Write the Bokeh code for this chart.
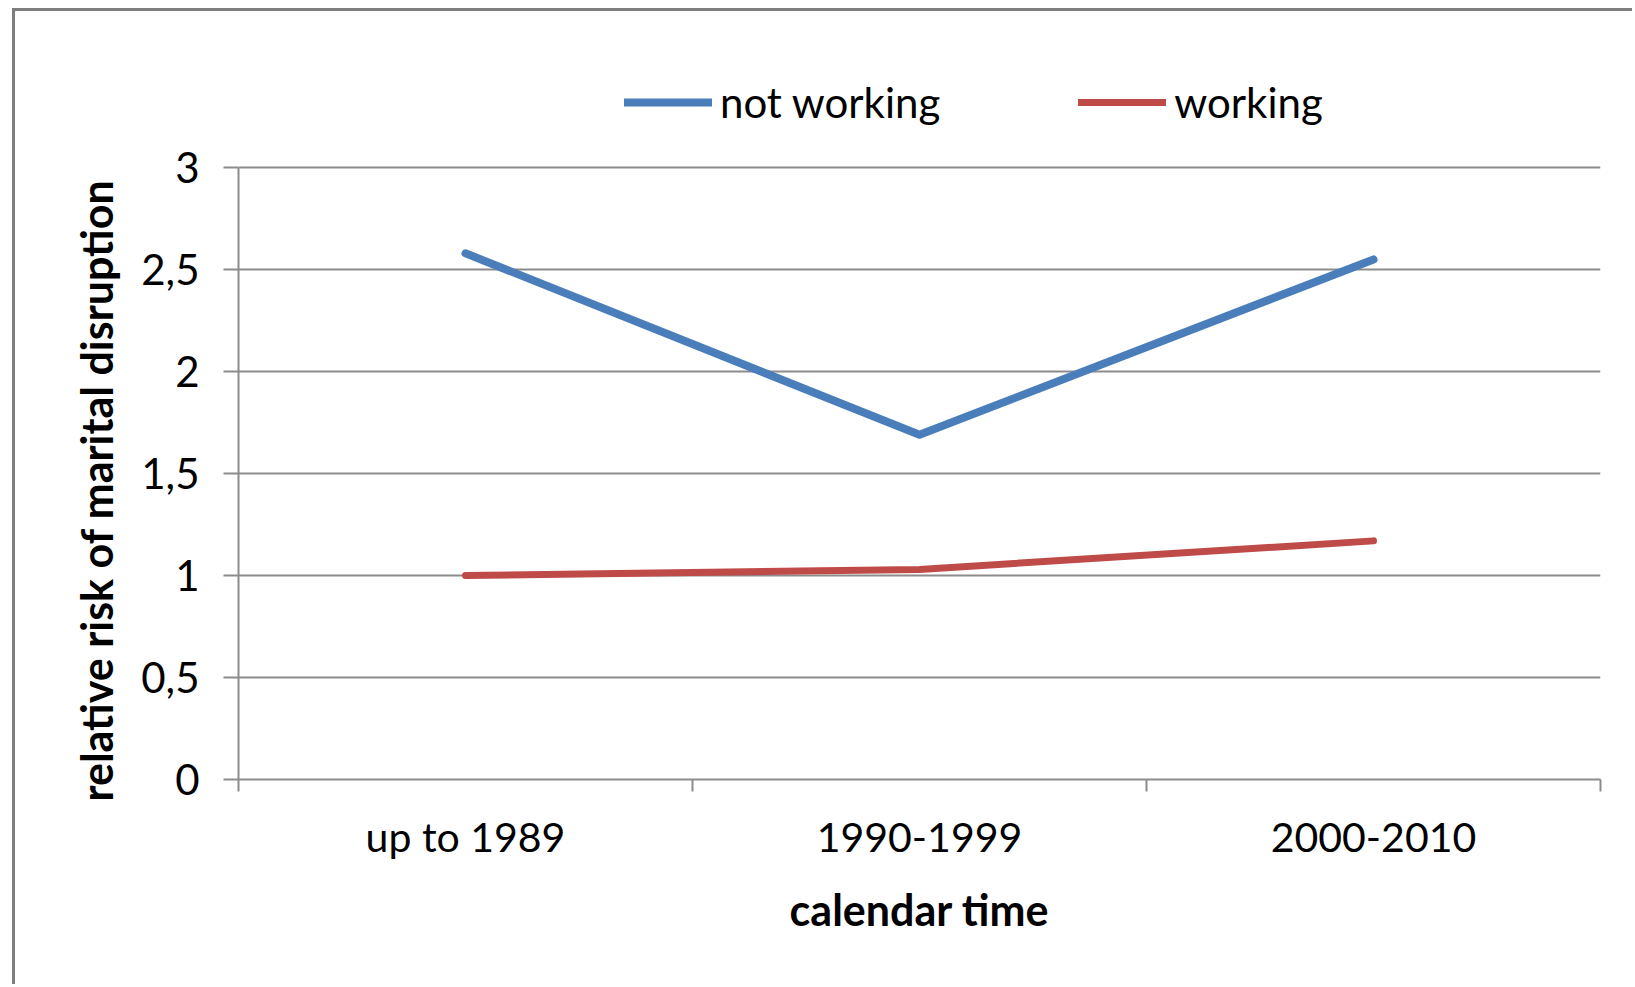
from bokeh.plotting import figure
from bokeh.models import Range1d, FixedTicker, Legend, LegendItem, Title
from bokeh.embed import file_html
from bokeh.resources import INLINE

# ---- data ----
categories = ["up to 1989", "1990-1999", "2000-2010"]
not_working = [2.58, 1.69, 2.55]
working = [1.00, 1.03, 1.17]
y_ticks = [0, 0.5, 1, 1.5, 2, 2.5, 3]
y_tick_labels = ["0", "0,5", "1", "1,5", "2", "2,5", "3"]
series_names = ["not working", "working"]
x_title = "calendar time"
y_title = "relative risk of marital disruption"

FONT = "Lato"
GRAY = "#8c8c8c"
BLUE = "#4a7ebb"
RED = "#be4b48"

xs = [i + 0.5 for i in range(len(categories))]
Y_MAX = 3
Y_VIEW_TOP = 3.54   # extra room above the axis for the legend

W, H = 1620, 976
p = figure(width=W, height=H, output_backend="svg", toolbar_location=None,
           x_range=Range1d(0, len(categories)), y_range=Range1d(0, Y_VIEW_TOP),
           min_border_left=223, min_border_right=35, min_border_top=46,
           min_border_bottom=208)
p.margin = (8, 0, 0, 12)
p.styles = {"border-left": "3px solid #7f7f7f", "border-top": "3px solid #7f7f7f"}
p.outline_line_color = None
p.background_fill_color = "white"
p.border_fill_color = "white"

# x axis
xa = p.xaxis[0]
xa.ticker = FixedTicker(ticks=xs, minor_ticks=list(range(len(categories) + 1)))
xa.major_label_overrides = {x: c for x, c in zip(xs, categories)}
xa.major_tick_line_color = None
xa.major_tick_out = 0
xa.major_tick_in = 0
xa.minor_tick_line_color = GRAY
xa.minor_tick_line_width = 2
xa.minor_tick_out = 12
xa.minor_tick_in = 0
xa.axis_line_color = GRAY
xa.axis_line_width = 2
xa.major_label_text_font = FONT
xa.major_label_text_font_size = "41px"
xa.major_label_text_color = "black"
xa.major_label_standoff = 20
xa.axis_label = x_title
xa.axis_label_text_font = FONT
xa.axis_label_text_font_style = "bold"
xa.axis_label_text_font_size = "43px"
xa.axis_label_text_color = "black"
xa.axis_label_standoff = 20

# y axis
ya = p.yaxis[0]
ya.bounds = (0, Y_MAX)
ya.ticker = FixedTicker(ticks=y_ticks, minor_ticks=[])
ya.major_label_overrides = {t: l for t, l in zip(y_ticks, y_tick_labels)}
ya.major_tick_line_color = GRAY
ya.major_tick_line_width = 2
ya.major_tick_out = 15
ya.major_tick_in = 0
ya.minor_tick_line_color = None
ya.axis_line_color = GRAY
ya.axis_line_width = 2
ya.major_label_text_font = FONT
ya.major_label_text_font_size = "42px"
ya.major_label_text_color = "black"
ya.major_label_standoff = 24

# y-axis title, centred on the 0..3 part of the axis
ytitle = Title(text=y_title, align="left", offset=-22, vertical_align="bottom",
               standoff=34, text_font=FONT, text_font_style="bold",
               text_font_size="43px", text_color="black")
p.add_layout(ytitle, "left")

p.xgrid.grid_line_color = None
p.ygrid.grid_line_color = GRAY
p.ygrid.grid_line_width = 2

r1 = p.line(xs, not_working, line_color=BLUE, line_width=8, line_cap="round", line_join="round")
r2 = p.line(xs, working, line_color=RED, line_width=7, line_cap="round", line_join="round")

legend = Legend(items=[LegendItem(label=series_names[0], renderers=[r1]),
                       LegendItem(label=series_names[1], renderers=[r2])],
                orientation="horizontal", location=(386, 652),
                glyph_width=88, glyph_height=40, label_standoff=8, spacing=138,
                padding=0, margin=0, border_line_color=None,
                background_fill_alpha=0,
                label_text_font=FONT, label_text_font_size="42px",
                label_text_color="black")
p.add_layout(legend, "center")

open("out.html", "w").write(file_html(p, INLINE))
